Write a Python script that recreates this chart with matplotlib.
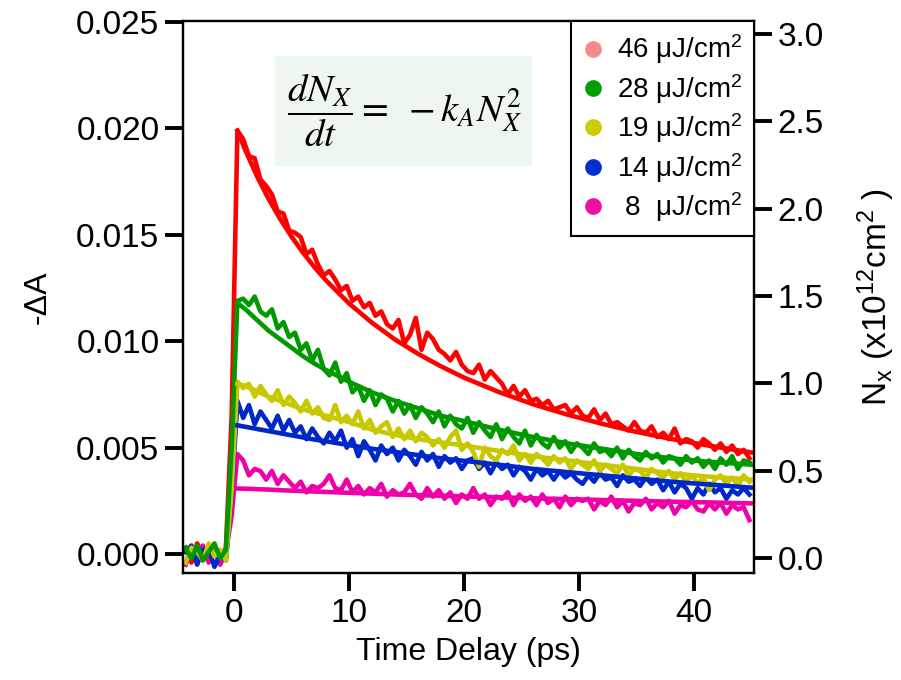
import numpy as np
import matplotlib
matplotlib.use("Agg")
import matplotlib.pyplot as plt
from matplotlib.lines import Line2D
from matplotlib.patches import Rectangle
from matplotlib.ticker import FormatStrFormatter

plt.rcParams['font.family'] = ['Liberation Sans', 'DejaVu Sans']
plt.rcParams['mathtext.fontset'] = 'custom'
plt.rcParams['mathtext.rm'] = 'Liberation Sans'
plt.rcParams['mathtext.it'] = 'Liberation Sans:italic'

# pump-probe delay of the measured traces (ps)
delay = np.round(-4.2 + 0.5 * np.arange(99), 1)
# delay of the second-order recombination fits (ps)
fit_delay = np.array([0.3, 1, 2, 3, 4, 5, 6, 7, 8, 10, 12, 14, 16, 18, 20,
                      23, 26, 29, 32, 35, 38, 41, 45])

# measured -dA, in units of 1e-3
trace_46 = [0.3, -0.4, 0.5, 0.0, -0.3, 0.4, -0.2, 0.3, 6.5, 19.9,
            19.5, 18.7, 18.6, 17.6, 17.3, 16.9, 16.1, 16.0, 15.2, 15.1,
            14.9, 14.1, 14.3, 13.6, 13.1, 13.3, 12.9, 12.4, 12.6, 11.9,
            12.1, 11.6, 11.8, 11.2, 11.4, 10.8, 10.6, 11.0, 9.9, 10.3,
            11.1, 9.6, 10.4, 10.1, 9.6, 9.4, 9.1, 9.5, 8.9, 8.6,
            8.5, 8.9, 8.2, 8.6, 8.3, 8.0, 7.5, 7.9, 7.4, 7.7,
            7.2, 7.3, 7.0, 7.2, 6.8, 6.9, 7.0, 6.6, 6.9, 6.5,
            6.4, 6.8, 6.3, 6.6, 6.1, 6.2, 6.0, 5.8, 6.2, 5.8,
            5.7, 6.0, 5.5, 5.7, 5.4, 5.9, 5.2, 5.4, 5.3, 5.0,
            5.4, 5.2, 4.9, 5.2, 4.8, 5.1, 4.7, 4.9, 4.5]
trace_28 = [0.3, -0.2, 0.4, -0.3, 0.1, 0.5, -0.2, 0.2, 5.0, 11.9,
            12.0, 11.7, 12.1, 11.4, 11.2, 11.5, 10.6, 10.9, 10.2, 10.4,
            9.6, 9.9, 9.1, 9.6, 8.7, 8.4, 9.0, 8.1, 8.5, 7.6,
            7.9, 7.2, 7.7, 7.0, 7.5, 7.3, 6.7, 7.2, 6.6, 7.0,
            6.4, 6.9, 6.6, 6.2, 6.7, 6.0, 6.5, 6.1, 5.9, 6.4,
            5.7, 6.2, 5.8, 5.5, 6.1, 5.4, 5.9, 5.5, 5.2, 5.8,
            5.1, 5.6, 5.2, 5.0, 5.5, 5.0, 5.3, 4.8, 5.2, 5.0,
            4.7, 5.2, 4.8, 4.9, 4.6, 5.0, 4.5, 4.9, 4.6, 4.4,
            4.8, 4.5, 4.7, 4.3, 4.6, 4.5, 4.2, 4.6, 4.3, 4.5,
            4.1, 4.4, 4.0, 4.5, 4.2, 4.6, 4.0, 4.4, 4.3]
trace_19 = [-0.4, 0.3, 0.1, -0.3, 0.5, -0.1, 0.2, -0.3, 3.0, 8.1,
            7.8, 8.0, 7.4, 7.9, 7.5, 7.2, 7.7, 7.0, 7.4, 7.1,
            6.7, 7.2, 6.6, 6.9, 6.4, 6.3, 7.0, 6.2, 6.5, 6.1,
            6.7, 5.9, 6.3, 5.7, 6.0, 6.2, 5.5, 5.9, 5.4, 5.8,
            5.3, 5.7, 5.5, 5.1, 5.4, 5.0, 5.5, 5.8, 4.9, 5.2,
            4.8, 4.1, 5.0, 4.6, 4.4, 4.9, 4.7, 5.1, 4.4, 4.7,
            4.3, 4.7, 4.5, 4.2, 4.6, 4.3, 4.5, 4.0, 4.4, 4.2,
            4.0, 4.4, 3.9, 4.2, 4.0, 3.8, 4.2, 3.7, 4.0, 3.9,
            3.6, 4.0, 3.8, 3.6, 3.9, 3.5, 3.8, 3.4, 3.7, 3.3,
            3.6, 3.0, 3.5, 3.7, 3.3, 3.6, 3.2, 3.7, 3.4]
trace_14 = [0.1, 0.4, -0.5, 0.2, 0.3, -0.6, 0.0, -0.3, 2.8, 7.2,
            6.4, 7.0, 6.1, 6.7, 6.3, 5.9, 6.5, 5.8, 6.3, 5.7,
            6.0, 5.4, 5.9, 5.5, 5.2, 5.7, 5.3, 5.8, 5.0, 5.4,
            4.6, 5.3, 4.9, 4.4, 5.1, 4.7, 5.0, 4.4, 4.9, 4.6,
            4.2, 4.8, 4.4, 4.7, 4.1, 4.6, 4.3, 4.5, 4.0, 4.4,
            4.5, 4.0, 4.3, 3.8, 4.3, 4.0, 4.2, 3.7, 4.1, 3.9,
            3.5, 4.0, 3.7, 3.9, 3.5, 3.9, 3.6, 3.8, 3.5, 3.3,
            3.7, 3.4, 3.8, 3.5, 3.6, 3.2, 3.7, 3.4, 3.5, 3.2,
            3.6, 3.3, 3.5, 3.0, 3.4, 2.9, 3.3, 3.1, 2.6, 3.1,
            2.8, 3.3, 2.9, 3.1, 2.6, 3.0, 2.8, 3.1, 2.8]
trace_8 = [-0.5, 0.3, -0.2, 0.4, -0.4, 0.2, -0.5, 0.1, 1.8, 4.7,
           4.4, 3.7, 4.0, 3.9, 3.5, 3.9, 3.3, 3.7, 3.4, 3.1,
           3.4, 2.9, 3.2, 3.1, 3.3, 3.7, 3.1, 3.0, 3.5, 2.9,
           3.2, 2.8, 3.1, 2.9, 3.3, 2.7, 3.0, 2.8, 2.9, 3.3,
           2.8, 2.6, 3.1, 2.7, 3.0, 2.6, 2.9, 2.4, 2.8, 2.6,
           3.1, 2.6, 2.8, 2.3, 2.7, 2.6, 2.9, 2.3, 2.8, 2.5,
           2.7, 2.3, 2.8, 2.4, 2.6, 2.2, 2.7, 2.3, 2.6, 2.5,
           2.6, 2.1, 2.5, 2.3, 2.7, 2.2, 2.5, 2.0, 2.4, 2.3,
           2.6, 2.1, 2.4, 2.2, 2.5, 1.9, 2.3, 2.2, 2.5, 2.1,
           2.0, 2.4, 2.1, 2.4, 1.9, 2.3, 2.1, 2.2, 1.6]

# fitted curves, units of 1e-3
fit_46 = [19.9, 18.96, 17.76, 16.70, 15.76, 14.92, 14.16, 13.48, 12.86, 11.78,
          10.87, 10.08, 9.41, 8.82, 8.29, 7.62, 7.04, 6.55, 6.12, 5.74,
          5.41, 5.12, 4.77]
fit_28 = [11.8, 11.5, 11.0, 10.5, 10.1, 9.7, 9.3, 8.95, 8.65, 8.1,
          7.6, 7.2, 6.85, 6.5, 6.25, 5.85, 5.5, 5.2, 4.95, 4.7,
          4.5, 4.35, 4.2]
fit_19 = [8.0, 7.9, 7.65, 7.4, 7.2, 7.0, 6.8, 6.65, 6.5, 6.2,
          5.85, 5.6, 5.4, 5.25, 5.1, 4.85, 4.6, 4.4, 4.2, 4.0,
          3.8, 3.65, 3.5]
fit_14 = [6.05, 5.98, 5.88, 5.78, 5.68, 5.58, 5.48, 5.38, 5.3, 5.12,
          4.95, 4.8, 4.65, 4.5, 4.38, 4.2, 4.0, 3.85, 3.7, 3.55,
          3.4, 3.28, 3.12]
fit_8 = [3.08, 3.07, 3.05, 3.03, 3.0, 2.98, 2.96, 2.94, 2.92, 2.88,
         2.84, 2.8, 2.77, 2.74, 2.71, 2.67, 2.62, 2.58, 2.54, 2.5,
         2.46, 2.43, 2.38]

fluences = ['46', '28', '19', '14', ' 8']
line_colors = ['#FF0000', '#009A00', '#C8C800', '#0028C8', '#F000A8']
dot_colors = ['#F48A8A', '#00A000', '#CCCC00', '#0030D0', '#EE10A8']
traces = [trace_46, trace_28, trace_19, trace_14, trace_8]
fits = [fit_46, fit_28, fit_19, fit_14, fit_8]

x_ticks = [0, 10, 20, 30, 40]
left_ticks = [0.000, 0.005, 0.010, 0.015, 0.020, 0.025]
right_ticks = [0.0, 0.5, 1.0, 1.5, 2.0, 2.5, 3.0]

fig = plt.figure(figsize=(9.01, 6.8), dpi=100)
ax = fig.add_axes([183 / 901, 1 - 573 / 680, 571 / 901, 552 / 680])

# draw order: red underneath, green on top
for idx in [0, 4, 3, 2, 1]:
    c = line_colors[idx]
    ax.plot(delay, np.array(traces[idx]) * 1e-3, color=c, lw=3.3,
            solid_joinstyle='round', zorder=2)
    ax.plot(fit_delay, np.array(fits[idx]) * 1e-3, color=c, lw=3.3,
            solid_joinstyle='round', zorder=3)

ax.set_xlim(-4.43, 45.2)
ax.set_ylim(-0.00089, 0.02505)
ax.set_xticks(x_ticks)
ax.set_yticks(left_ticks)
ax.yaxis.set_major_formatter(FormatStrFormatter('%.3f'))
ax.tick_params(axis='both', direction='out', length=13, width=2.8,
               labelsize=24, pad=4)
ax.tick_params(axis='x', pad=5)
for sp in ax.spines.values():
    sp.set_linewidth(1.6)

ax.set_xlabel('Time Delay (ps)', fontsize=23, labelpad=6)
ax.set_ylabel('-ΔA', fontsize=23)
ax.yaxis.set_label_coords(-0.229, 0.5)

# rate equation inset
ax.add_patch(Rectangle((0.161, 0.738), 0.45, 0.199, transform=ax.transAxes,
                       facecolor='#EEF6F0', edgecolor='none', zorder=1))
ax.text(0.388, 0.838, r'$\dfrac{dN_X}{dt} = \ -k_A N_X^2$',
        transform=ax.transAxes, ha='center', va='center', fontsize=28,
        math_fontfamily='stix', zorder=4)

ax2 = ax.twinx()
ax2.set_ylim(-0.086, 3.074)
ax2.set_yticks(right_ticks)
ax2.yaxis.set_major_formatter(FormatStrFormatter('%.1f'))
ax2.tick_params(axis='y', direction='out', length=13, width=2.8,
                labelsize=24, pad=4)
for sp in ax2.spines.values():
    sp.set_linewidth(1.6)
ax2.set_ylabel(r'N$_\mathregular{x}$ (x10$^\mathregular{12}$cm$^\mathregular{2}$ )',
               fontsize=24)
ax2.yaxis.set_label_coords(1.178, 0.5)

handles = [Line2D([], [], ls='none', marker='o', ms=11, mfc=c, mec=c)
           for c in dot_colors]
labels = [f'{f}  μJ/cm$^\\mathregular{{2}}$' if f.startswith(' ')
          else f'{f} μJ/cm$^\\mathregular{{2}}$' for f in fluences]
leg = ax2.legend(handles, labels, loc='upper right', bbox_to_anchor=(1, 1),
                 borderaxespad=0, frameon=True, fancybox=False,
                 edgecolor='black', framealpha=1, fontsize=20,
                 handlelength=0.8, handletextpad=0.45, labelspacing=0.2,
                 borderpad=0.42)
leg.get_frame().set_linewidth(1.5)

fig.savefig('out.png', dpi=100)
